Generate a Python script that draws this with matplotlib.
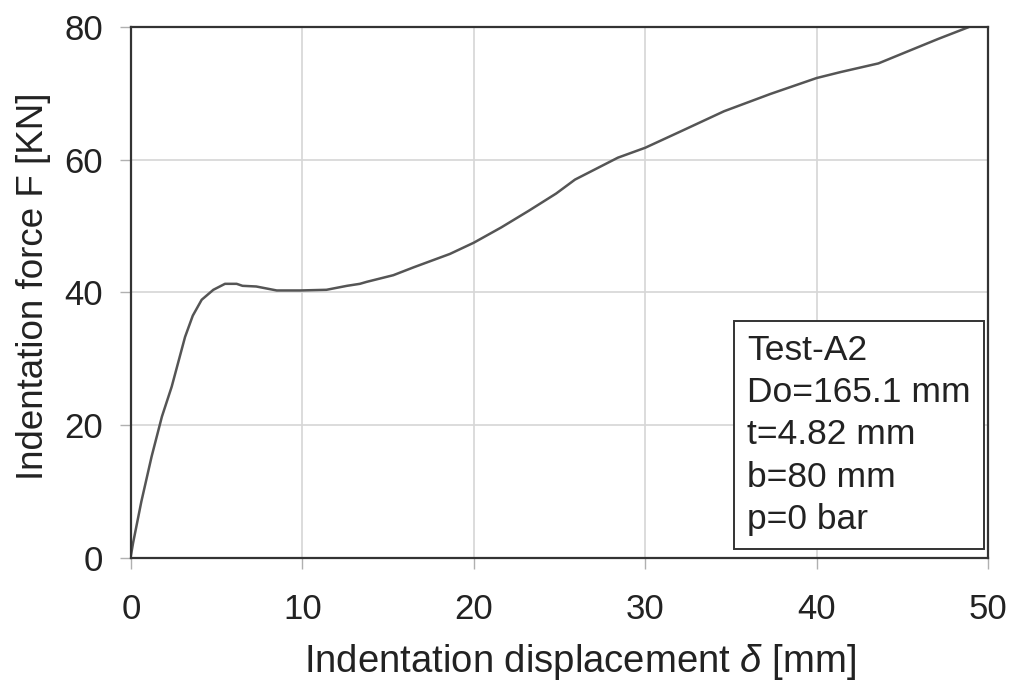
import numpy as np
import matplotlib
matplotlib.use('Agg')
import matplotlib.pyplot as plt

plt.rcParams['font.family'] = ['Liberation Sans', 'DejaVu Sans']
plt.rcParams['mathtext.fontset'] = 'custom'
plt.rcParams['mathtext.it'] = 'Liberation Sans:italic'
plt.rcParams['mathtext.rm'] = 'Liberation Sans'

# 변위 [mm] / 하중 [kN]
disp = [0.0, 0.12, 0.6, 1.2, 1.8, 2.37, 3.15, 3.6, 4.12, 4.8, 5.48, 6.16, 6.5,
        7.3, 7.9, 8.5, 9.86, 11.4, 12.6, 13.35, 13.75, 15.3, 16.5, 18.6,
        20.0, 21.6, 23.2, 24.8, 25.9, 28.4, 30.0, 32.1, 34.6, 37.3, 40.0,
        41.4, 43.6, 45.3, 47.1, 48.4, 48.9]
force = [0.5, 2.3, 8.5, 15.3, 21.3, 25.8, 33.3, 36.5, 38.9, 40.4, 41.3, 41.3, 41.0,
         40.9, 40.6, 40.3, 40.3, 40.4, 41.0, 41.3, 41.6, 42.6, 43.8, 45.8,
         47.5, 49.8, 52.3, 54.9, 57.0, 60.3, 61.8, 64.3, 67.3, 69.9, 72.3,
         73.2, 74.5, 76.3, 78.2, 79.5, 80.0]

info_lines = ['Test-A2', 'Do=165.1 mm', 't=4.82 mm', 'b=80 mm', 'p=0 bar']

fig = plt.figure(figsize=(10.16, 6.9), dpi=100)
ax = fig.add_axes([0.129, 0.1913, 0.8435, 0.7697])

ax.plot(disp, force, color='#555555', lw=1.8)

ax.set_xlim(0, 50)
ax.set_ylim(0, 80)
ax.set_xticks(np.arange(0, 51, 10))
ax.set_yticks(np.arange(0, 81, 20))
ax.grid(True, color='#d6d6d6', lw=1.2)
ax.tick_params(axis='both', direction='out', length=8, width=1, color='#b0b0b0',
               labelsize=25, labelcolor='#222222')
ax.tick_params(axis='x', pad=17)
ax.tick_params(axis='y', pad=12)
for s in ax.spines.values():
    s.set_color('#333333')
    s.set_linewidth(1.6)

ax.set_xlabel(r'Indentation displacement $\it{\delta}$ [mm]', fontsize=27.5,
              color='#222222', labelpad=12)
ax.set_ylabel('Indentation force F [KN]', fontsize=26.5, color='#222222', labelpad=10)
ax.xaxis.label.set_x(0.524)
ax.yaxis.label.set_y(0.511)

ax.text(35.95, 33.8, '\n'.join(info_lines), fontsize=25.5, color='#222222',
        va='top', ha='left', linespacing=1.36,
        bbox=dict(boxstyle='square,pad=0.37', fc='white', ec='#333333', lw=1.4))

fig.savefig('out.png', dpi=100)
